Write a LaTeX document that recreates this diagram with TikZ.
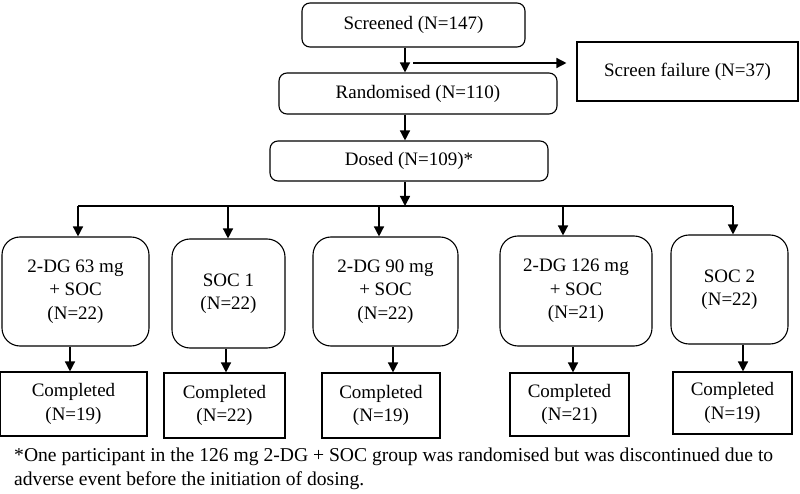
\documentclass[tikz,border=0pt]{standalone}
\usepackage{fontspec}
\setmainfont{Liberation Serif}
\usetikzlibrary{arrows.meta,positioning,calc}

\begin{document}
\begin{tikzpicture}[x=1pt, y=-1pt,
        box/.style={rectangle, draw=black, line width=1.1pt, inner sep=0pt, align=center, font=\fontsize{19}{23.5}\selectfont},
        stage/.style={box, rounded corners=8pt},
        group/.style={box, rounded corners=18pt},
        done/.style={box},
        note/.style={inner sep=0pt, align=left, font=\fontsize{19.6}{24}\selectfont},
        arrow/.style={-{Triangle[length=10pt,width=10pt]}, line width=1.4pt, color=black}
    ]
        \useasboundingbox (0,0) rectangle (800,494);

        \node[stage, minimum width=223, minimum height=44] (screened) at (413.5,25) {Screened (N=147)};
        \node[done, minimum width=221, minimum height=59] (failure) at (687.5,71.5) {Screen failure (N=37)};
        \node[stage, minimum width=278, minimum height=41] (randomised) at (418,93.5) {Randomised (N=110)};
        \node[stage, minimum width=278, minimum height=40] (dosed) at (409,161) {Dosed (N=109)*};

        \node[group, minimum width=147, minimum height=109] (g1) at (75.5,291.5) {2-DG 63 mg\\+ SOC\\(N=22)};
        \node[group, minimum width=113, minimum height=109] (g2) at (228.5,293.5) {SOC 1\\(N=22)};
        \node[group, minimum width=145, minimum height=109] (g3) at (385.5,291.5) {2-DG 90 mg\\+ SOC\\(N=22)};
        \node[group, minimum width=152, minimum height=110] (g4) at (576,291) {2-DG 126 mg\\+ SOC\\(N=21)};
        \node[group, minimum width=117, minimum height=109] (g5) at (729.5,289.5) {SOC 2\\(N=22)};

        \node[done, minimum width=147, minimum height=64] (c1) at (73.5,404) {Completed\\(N=19)};
        \node[done, minimum width=121, minimum height=65] (c2) at (224.5,405.5) {Completed\\(N=22)};
        \node[done, minimum width=118, minimum height=65] (c3) at (381,405.5) {Completed\\(N=19)};
        \node[done, minimum width=119, minimum height=63] (c4) at (569.5,404.5) {Completed\\(N=21)};
        \node[done, minimum width=119, minimum height=62] (c5) at (732.5,403) {Completed\\(N=19)};

        \node[note, anchor=north west] (footnote) at (14,448) {*One participant in the 126 mg 2-DG + SOC group was randomised but was discontinued due to\\adverse event before the initiation of dosing.};

        \coordinate (spine) at (405,0);
        \coordinate (bar) at (0,206);
        \coordinate (branch) at (413,63);
        \coordinate (t1) at (78,206);
        \coordinate (t2) at (228,206);
        \coordinate (t3) at (379,206);
        \coordinate (t4) at (563,206);
        \coordinate (t5) at (733,206);

        \draw[arrow] (screened.south -| spine) -- (randomised.north -| spine);
        \draw[arrow, shorten >=10pt] (branch) -- (branch -| failure.west);
        \draw[arrow] (randomised.south -| spine) -- (dosed.north -| spine);
        \draw[arrow] (dosed.south -| spine) -- (spine |- bar);
        \draw[line width=1.4pt] (t1) -- (t5);

        \draw[arrow] (t1) -- (t1 |- g1.north);
        \draw[arrow] (t2) -- (t2 |- g2.north);
        \draw[arrow] (t3) -- (t3 |- g3.north);
        \draw[arrow] (t4) -- (t4 |- g4.north);
        \draw[arrow] (t5) -- (t5 |- g5.north);

        \draw[arrow] ([xshift=-5.5pt]g1.south) -- ([xshift=-3.5pt]c1.north);
        \draw[arrow] ([xshift=-2.5pt]g2.south) -- ([xshift=1.5pt]c2.north);
        \draw[arrow] ([xshift=7.5pt]g3.south) -- ([xshift=12pt]c3.north);
        \draw[arrow] ([xshift=-3pt]g4.south) -- ([xshift=3.5pt]c4.north);
        \draw[arrow] ([xshift=13.5pt]g5.south) -- ([xshift=10.5pt]c5.north);
    \end{tikzpicture}
\end{document}
